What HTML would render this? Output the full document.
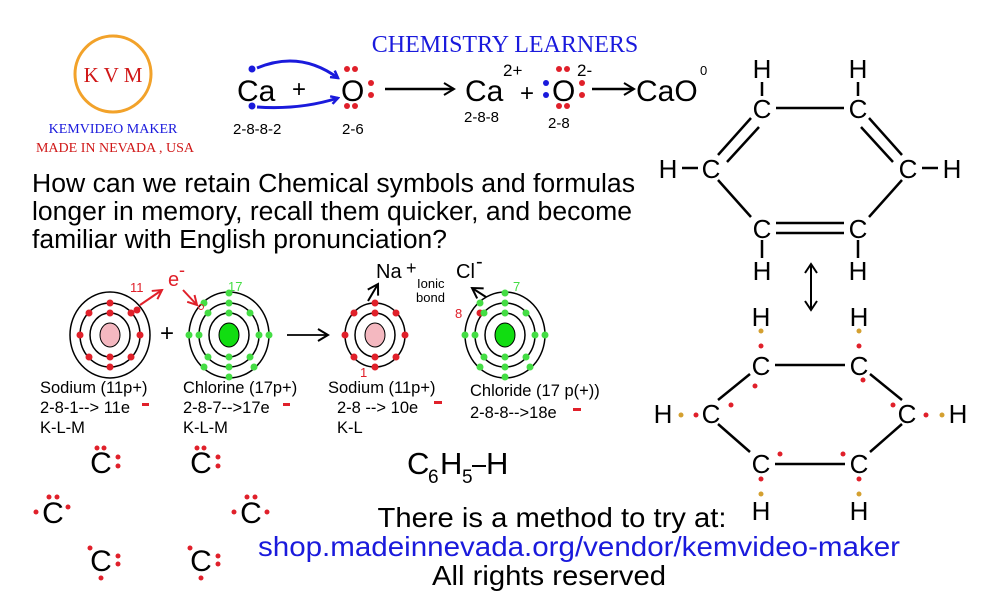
<!DOCTYPE html>
<html><head><meta charset="utf-8"><style>
html,body{margin:0;padding:0;background:#fff;}
svg{display:block;}
text{font-family:"Liberation Sans",sans-serif;}
.serif{font-family:"Liberation Serif",serif;}
</style></head><body>
<svg width="1000" height="614" viewBox="0 0 1000 614" xmlns="http://www.w3.org/2000/svg">
<defs>
<marker id="ab" markerWidth="10" markerHeight="10" refX="8" refY="5" orient="auto" markerUnits="userSpaceOnUse"><path d="M1,1 L8,5 L1,9" fill="none" stroke="#1a1adc" stroke-width="2.5"/></marker>
<marker id="ak" markerWidth="14" markerHeight="14" refX="12" refY="7" orient="auto" markerUnits="userSpaceOnUse"><path d="M2,1 L12,7 L2,13" fill="none" stroke="#000" stroke-width="2"/></marker>
<marker id="ar" markerWidth="12" markerHeight="12" refX="10" refY="6" orient="auto" markerUnits="userSpaceOnUse"><path d="M1,1 L10,6 L1,11" fill="none" stroke="#e0202a" stroke-width="2"/></marker>
</defs>
<!-- KVM logo -->
<circle cx="113" cy="74" r="38" fill="none" stroke="#f2a22a" stroke-width="3"/>
<text x="113" y="82" class="serif" font-size="21" fill="#d01818" text-anchor="middle">K V M</text>
<text x="113" y="133" class="serif" font-size="14" fill="#1a1adc" text-anchor="middle">KEMVIDEO MAKER</text>
<text x="115" y="152" class="serif" font-size="14" fill="#d01818" text-anchor="middle">MADE IN NEVADA , USA</text>
<text x="505" y="52" class="serif" font-size="24" fill="#1a1adc" text-anchor="middle">CHEMISTRY LEARNERS</text>
<!-- equation -->
<text x="237" y="101" font-size="30">Ca</text>
<text x="292" y="97" font-size="24">+</text>
<text x="341" y="101" font-size="30">O</text>
<circle cx="252" cy="69" r="3.5" fill="#1a1adc"/><circle cx="252" cy="106" r="3.5" fill="#1a1adc"/>
<path d="M257,68 Q300,50 338,78" fill="none" stroke="#1a1adc" stroke-width="3" marker-end="url(#ab)"/>
<path d="M257,107 Q300,110 338,98" fill="none" stroke="#1a1adc" stroke-width="3" marker-end="url(#ab)"/>
<g fill="#e0202a"><circle cx="347" cy="69" r="3"/><circle cx="355" cy="69" r="3"/><circle cx="347" cy="106" r="3"/><circle cx="355" cy="106" r="3"/><circle cx="371" cy="83" r="3"/><circle cx="371" cy="95" r="3"/></g>
<line x1="385" y1="89" x2="454" y2="89" stroke="#000" stroke-width="2.5" marker-end="url(#ak)"/>
<text x="465" y="101" font-size="30">Ca</text>
<text x="503" y="76" font-size="17">2+</text>
<text x="520" y="101" font-size="24">+</text>
<text x="552" y="101" font-size="30">O</text>
<circle cx="546" cy="83" r="3" fill="#1a1adc"/><circle cx="546" cy="95" r="3" fill="#1a1adc"/>
<g fill="#e0202a"><circle cx="559" cy="69" r="3"/><circle cx="567" cy="69" r="3"/><circle cx="559" cy="106" r="3"/><circle cx="567" cy="106" r="3"/><circle cx="582" cy="83" r="3"/><circle cx="582" cy="95" r="3"/></g>
<text x="577" y="76" font-size="17">2-</text>
<line x1="592" y1="89" x2="634" y2="89" stroke="#000" stroke-width="2.5" marker-end="url(#ak)"/>
<text x="636" y="101" font-size="30">CaO</text>
<text x="700" y="75" font-size="13">0</text>
<g font-size="15"><text x="233" y="134">2-8-8-2</text><text x="342" y="134">2-6</text><text x="464" y="122">2-8-8</text><text x="548" y="128">2-8</text></g>
<!-- question -->
<g font-size="25.5"><text x="32" y="192" textLength="603" lengthAdjust="spacingAndGlyphs">How can we retain Chemical symbols and formulas</text><text x="32" y="220" textLength="600" lengthAdjust="spacingAndGlyphs">longer in memory, recall them quicker, and become</text><text x="32" y="248" textLength="415" lengthAdjust="spacingAndGlyphs">familiar with English pronunciation?</text></g>
<!-- atoms -->
<g fill="none" stroke="#000" stroke-width="1.5">
<ellipse cx="110" cy="335" rx="40" ry="43"/><ellipse cx="110" cy="335" rx="30" ry="32"/><ellipse cx="110" cy="335" rx="20" ry="22"/>
<ellipse cx="229" cy="335" rx="40" ry="43"/><ellipse cx="229" cy="335" rx="30" ry="32"/><ellipse cx="229" cy="335" rx="20" ry="22"/>
<ellipse cx="375" cy="335" rx="30" ry="32"/><ellipse cx="375" cy="335" rx="20" ry="22"/>
<ellipse cx="505" cy="335" rx="40" ry="43"/><ellipse cx="505" cy="335" rx="30" ry="32"/><ellipse cx="505" cy="335" rx="20" ry="22"/>
</g>
<ellipse cx="110" cy="335" rx="10" ry="12" fill="#f4b8c0" stroke="#000"/>
<ellipse cx="229" cy="335" rx="10" ry="12" fill="#11dd11" stroke="#000"/>
<ellipse cx="375" cy="335" rx="10" ry="12" fill="#f4b8c0" stroke="#000"/>
<ellipse cx="505" cy="335" rx="10" ry="12" fill="#11dd11" stroke="#000"/>
<g fill="#e0202a">
<circle cx="110" cy="313" r="3.5"/><circle cx="110" cy="357" r="3.5"/>
<circle cx="110" cy="303" r="3.5"/><circle cx="110" cy="367" r="3.5"/><circle cx="80" cy="335" r="3.5"/><circle cx="140" cy="335" r="3.5"/><circle cx="89" cy="313" r="3.5"/><circle cx="131" cy="313" r="3.5"/><circle cx="89" cy="357" r="3.5"/><circle cx="131" cy="357" r="3.5"/>
<circle cx="137" cy="310" r="3.5"/>
<circle cx="375" cy="313" r="3.5"/><circle cx="375" cy="357" r="3.5"/>
<circle cx="375" cy="303" r="3.5"/><circle cx="375" cy="367" r="3.5"/><circle cx="345" cy="335" r="3.5"/><circle cx="405" cy="335" r="3.5"/><circle cx="354" cy="313" r="3.5"/><circle cx="396" cy="313" r="3.5"/><circle cx="354" cy="357" r="3.5"/><circle cx="396" cy="357" r="3.5"/>
<circle cx="480" cy="313" r="3.5"/>
</g>
<g fill="#44dd44">
<circle cx="229" cy="313" r="3.5"/><circle cx="229" cy="357" r="3.5"/>
<circle cx="229" cy="303" r="3.5"/><circle cx="229" cy="367" r="3.5"/><circle cx="199" cy="335" r="3.5"/><circle cx="259" cy="335" r="3.5"/><circle cx="208" cy="313" r="3.5"/><circle cx="250" cy="313" r="3.5"/><circle cx="208" cy="357" r="3.5"/><circle cx="250" cy="357" r="3.5"/>
<circle cx="229" cy="293" r="3.5"/><circle cx="229" cy="377" r="3.5"/><circle cx="189" cy="335" r="3.5"/><circle cx="269" cy="335" r="3.5"/><circle cx="204" cy="303" r="3.5"/><circle cx="254" cy="367" r="3.5"/><circle cx="204" cy="367" r="3.5"/>
<circle cx="505" cy="313" r="3.5"/><circle cx="505" cy="357" r="3.5"/>
<circle cx="505" cy="303" r="3.5"/><circle cx="505" cy="367" r="3.5"/><circle cx="475" cy="335" r="3.5"/><circle cx="535" cy="335" r="3.5"/><circle cx="484" cy="313" r="3.5"/><circle cx="526" cy="313" r="3.5"/><circle cx="484" cy="357" r="3.5"/><circle cx="526" cy="357" r="3.5"/>
<circle cx="505" cy="293" r="3.5"/><circle cx="505" cy="377" r="3.5"/><circle cx="465" cy="335" r="3.5"/><circle cx="545" cy="335" r="3.5"/><circle cx="480" cy="303" r="3.5"/><circle cx="530" cy="367" r="3.5"/><circle cx="480" cy="367" r="3.5"/>
</g>
<text x="160" y="341" font-size="24">+</text>
<line x1="287" y1="335" x2="328" y2="335" stroke="#000" stroke-width="1.8" marker-end="url(#ak)"/>
<text x="130" y="292" font-size="13" fill="#e0202a">11</text>
<line x1="140" y1="305" x2="162" y2="290" stroke="#e0202a" stroke-width="2" marker-end="url(#ar)"/>
<text x="168" y="286" font-size="20" fill="#e0202a">e</text><text x="179" y="276" font-size="18" fill="#e0202a">-</text>
<line x1="183" y1="290" x2="197" y2="305" stroke="#e0202a" stroke-width="2" marker-end="url(#ar)"/>
<circle cx="201" cy="307" r="2.5" fill="none" stroke="#e0202a"/>
<text x="228" y="291" font-size="13" fill="#44dd44">17</text>
<text x="360" y="377" font-size="13" fill="#e0202a">1</text>
<text x="455" y="318" font-size="13" fill="#e0202a">8</text>
<text x="513" y="291" font-size="13" fill="#44dd44">7</text>
<text x="376" y="278" font-size="20">Na</text><text x="406" y="274" font-size="18">+</text>
<text x="417" y="288" font-size="13">Ionic</text><text x="416" y="302" font-size="13">bond</text>
<text x="456" y="278" font-size="20">Cl</text><text x="476" y="268" font-size="20">-</text>
<line x1="368" y1="301" x2="378" y2="284" stroke="#000" stroke-width="2" marker-end="url(#ak)"/>
<line x1="486" y1="297" x2="472" y2="288" stroke="#000" stroke-width="2" marker-end="url(#ak)"/>
<g font-size="16.5">
<text x="40" y="393">Sodium (11p+)</text><text x="40" y="413">2-8-1--&gt; 11e</text><text x="40" y="433">K-L-M</text>
<text x="183" y="393">Chlorine (17p+)</text><text x="183" y="413">2-8-7--&gt;17e</text><text x="183" y="433">K-L-M</text>
<text x="328" y="393">Sodium (11p+)</text><text x="337" y="413">2-8 --&gt; 10e</text><text x="337" y="433">K-L</text>
<text x="470" y="396">Chloride (17 p(+))</text><text x="470" y="418">2-8-8--&gt;18e</text>
</g>
<g fill="#e0202a"><rect x="142" y="403" width="7" height="3"/><rect x="283" y="403" width="7" height="3"/><rect x="434" y="401" width="8" height="3"/><rect x="573" y="408" width="8" height="3"/></g>
<!-- Lewis Cs -->
<g font-size="30" text-anchor="middle">
<text x="101" y="473">C</text><text x="201" y="473">C</text><text x="53" y="523">C</text><text x="251" y="523">C</text><text x="101" y="571">C</text><text x="201" y="571">C</text>
</g>
<g fill="#e0202a">
<circle cx="97" cy="448" r="2.5"/><circle cx="104" cy="448" r="2.5"/><circle cx="118" cy="457" r="2.5"/><circle cx="118" cy="466" r="2.5"/>
<circle cx="197" cy="448" r="2.5"/><circle cx="204" cy="448" r="2.5"/><circle cx="218" cy="457" r="2.5"/><circle cx="218" cy="466" r="2.5"/>
<circle cx="49" cy="497" r="2.5"/><circle cx="57" cy="497" r="2.5"/><circle cx="36" cy="512" r="2.5"/><circle cx="68" cy="507" r="2.5"/>
<circle cx="247" cy="497" r="2.5"/><circle cx="255" cy="497" r="2.5"/><circle cx="234" cy="512" r="2.5"/><circle cx="267" cy="512" r="2.5"/>
<circle cx="90" cy="548" r="2.5"/><circle cx="118" cy="556" r="2.5"/><circle cx="118" cy="564" r="2.5"/><circle cx="101" cy="578" r="2.5"/>
<circle cx="190" cy="548" r="2.5"/><circle cx="218" cy="556" r="2.5"/><circle cx="218" cy="564" r="2.5"/><circle cx="201" cy="578" r="2.5"/>
</g>
<text x="407" y="474" font-size="31">C</text><text x="428" y="483" font-size="19">6</text><text x="440" y="474" font-size="31">H</text><text x="462" y="483" font-size="19">5</text><line x1="472" y1="466" x2="486" y2="466" stroke="#000" stroke-width="2"/><text x="486" y="474" font-size="31">H</text>
<!-- bottom text -->
<g font-size="28" text-anchor="middle">
<text x="552" y="527" textLength="349" lengthAdjust="spacingAndGlyphs">There is a method to try at:</text>
<text x="579" y="556" fill="#1a1adc" textLength="642" lengthAdjust="spacingAndGlyphs">shop.madeinnevada.org/vendor/kemvideo-maker</text>
<text x="549" y="585" textLength="234" lengthAdjust="spacingAndGlyphs">All rights reserved</text>
</g>
<!-- benzene top -->
<g stroke="#000" stroke-width="2.5">
<line x1="762" y1="82" x2="762" y2="96"/><line x1="858" y1="82" x2="858" y2="96"/>
<line x1="682" y1="168" x2="698" y2="168"/><line x1="922" y1="168" x2="938" y2="168"/>
<line x1="762" y1="240" x2="762" y2="258"/><line x1="858" y1="240" x2="858" y2="258"/>
<line x1="776" y1="108" x2="844" y2="108"/>
<line x1="751" y1="118" x2="718" y2="155"/><line x1="759" y1="127" x2="727" y2="162"/>
<line x1="869" y1="118" x2="902" y2="155"/><line x1="861" y1="127" x2="893" y2="162"/>
<line x1="718" y1="180" x2="751" y2="217"/><line x1="902" y1="180" x2="869" y2="217"/>
<line x1="776" y1="223" x2="844" y2="223"/><line x1="776" y1="233" x2="844" y2="233"/>
</g>
<g font-size="26" text-anchor="middle">
<text x="762" y="78">H</text><text x="858" y="78">H</text>
<text x="762" y="118">C</text><text x="858" y="118">C</text>
<text x="668" y="178">H</text><text x="711" y="178">C</text><text x="908" y="178">C</text><text x="952" y="178">H</text>
<text x="762" y="238">C</text><text x="858" y="238">C</text>
<text x="762" y="280">H</text><text x="858" y="280">H</text>
</g>
<line x1="811" y1="266" x2="811" y2="308" stroke="#000" stroke-width="2"/>
<path d="M805,273 L811,264 L817,273 M805,301 L811,310 L817,301" fill="none" stroke="#000" stroke-width="2"/>
<!-- benzene bottom -->
<g stroke="#000" stroke-width="2.5">
<line x1="775" y1="365" x2="845" y2="365"/>
<line x1="750" y1="374" x2="718" y2="400"/><line x1="870" y1="374" x2="902" y2="400"/>
<line x1="718" y1="424" x2="750" y2="452"/><line x1="902" y1="424" x2="870" y2="452"/>
<line x1="775" y1="464" x2="845" y2="464"/>
</g>
<g font-size="26" text-anchor="middle">
<text x="761" y="326">H</text><text x="859" y="326">H</text>
<text x="761" y="375">C</text><text x="859" y="375">C</text>
<text x="663" y="423">H</text><text x="711" y="423">C</text><text x="907" y="423">C</text><text x="958" y="423">H</text>
<text x="761" y="473">C</text><text x="859" y="473">C</text>
<text x="761" y="520">H</text><text x="859" y="520">H</text>
</g>
<g fill="#e0202a">
<circle cx="761" cy="346" r="2.5"/><circle cx="859" cy="346" r="2.5"/><circle cx="755" cy="386" r="2.5"/><circle cx="863" cy="380" r="2.5"/>
<circle cx="696" cy="415" r="2.5"/><circle cx="731" cy="405" r="2.5"/><circle cx="893" cy="405" r="2.5"/><circle cx="926" cy="415" r="2.5"/>
<circle cx="780" cy="454" r="2.5"/><circle cx="843" cy="454" r="2.5"/><circle cx="761" cy="479" r="2.5"/><circle cx="859" cy="479" r="2.5"/>
</g>
<g fill="#d4a030">
<circle cx="761" cy="331" r="2.5"/><circle cx="859" cy="331" r="2.5"/><circle cx="681" cy="415" r="2.5"/><circle cx="942" cy="415" r="2.5"/><circle cx="761" cy="494" r="2.5"/><circle cx="859" cy="494" r="2.5"/>
</g>
</svg>
</body></html>
